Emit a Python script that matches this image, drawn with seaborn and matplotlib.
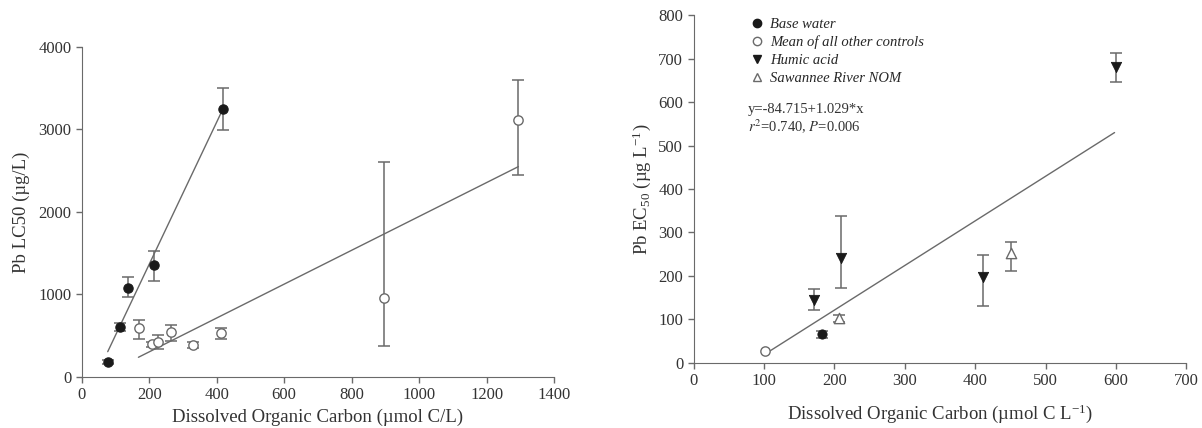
import numpy as np
import pandas as pd
import matplotlib
matplotlib.use('Agg')
import matplotlib.pyplot as plt
import seaborn as sns
from matplotlib.lines import Line2D

# ── data: left panel (Pb LC50 vs DOC) ────────────────────────────────────────
base_doc  = [77, 113, 137, 214, 418]
base_lc50 = [175, 605, 1075, 1355, 3245]
base_lo   = [150, 555, 963, 1165, 2994]
base_hi   = [200, 655, 1206, 1525, 3500]

ctrl_doc  = [169, 208, 225, 264, 331, 413, 896, 1294]
ctrl_lc50 = [595, 393, 425, 546, 385, 534, 960, 3115]
ctrl_lo   = [453, 365, 336, 437, 345, 461, 370, 2451]
ctrl_hi   = [688, 420, 506, 628, 420, 595, 2609, 3600]

base_fit_x = [77, 418]
base_fit_y = [303, 3245]
ctrl_fit_x = [168, 1294]
ctrl_fit_y = [235, 2549]

# ── data: right panel (Pb EC50 vs DOC) ───────────────────────────────────────
bw_doc   = [182]
bw_ec50  = [65]
bw_lo    = [57]
bw_hi    = [72]

mc_doc   = [101]
mc_ec50  = [27]

ha_doc   = [171, 210, 411, 600]
ha_ec50  = [145, 240, 198, 681]
ha_lo    = [120, 171, 131, 646]
ha_hi    = [169, 338, 248, 714]

sr_doc   = [207, 451]
sr_ec50  = [102, 252]
sr_lo    = [93, 212]
sr_hi    = [110, 278]

fit_x = [103, 598]
fit_y = [21, 530]

legend_labels = ['Base water', 'Mean of all other controls',
                 'Humic acid', 'Sawannee River NOM']

# ── style ────────────────────────────────────────────────────────────────────
sns.set_style('ticks')
plt.rcParams['font.family'] = ['Liberation Serif', 'DejaVu Serif']
plt.rcParams['mathtext.fontset'] = 'stix'
plt.rcParams['mathtext.default'] = 'regular'

GREY = '#6a6a6a'
DARK = '#1a1a1a'

fig = plt.figure(figsize=(12.02, 4.28), dpi=100)
ax1 = fig.add_axes([0.068, 0.120, 0.393, 0.770])
ax2 = fig.add_axes([0.577, 0.153, 0.410, 0.811])


def err(ax, x, y, lo, hi):
    y = np.asarray(y)
    yerr = [y - np.asarray(lo), np.asarray(hi) - y]
    ax.errorbar(x, y, yerr=yerr, fmt='none', ecolor=GREY, elinewidth=1.1,
                capsize=4, capthick=1.1, zorder=2)


# left panel
sns.lineplot(x=base_fit_x, y=base_fit_y, ax=ax1, color=GREY, lw=1.0, zorder=1)
sns.lineplot(x=ctrl_fit_x, y=ctrl_fit_y, ax=ax1, color=GREY, lw=1.0, zorder=1)
err(ax1, base_doc, base_lc50, base_lo, base_hi)
err(ax1, ctrl_doc, ctrl_lc50, ctrl_lo, ctrl_hi)
sns.scatterplot(x=base_doc, y=base_lc50, ax=ax1, marker='o', s=45,
                color=DARK, edgecolor=DARK, linewidth=0.8, zorder=3)
sns.scatterplot(x=ctrl_doc, y=ctrl_lc50, ax=ax1, marker='o', s=45,
                facecolor='white', edgecolor=GREY, linewidth=1.0, zorder=3)

ax1.set_xlim(0, 1400)
ax1.set_ylim(0, 4000)
ax1.set_xticks(np.arange(0, 1401, 200))
ax1.set_yticks(np.arange(0, 4001, 1000))
ax1.set_xlabel('Dissolved Organic Carbon (µmol C/L)', fontsize=13.5, color='#333333')
ax1.set_ylabel('Pb LC50 (µg/L)', fontsize=13.5, color='#333333', labelpad=6)

# right panel
sns.lineplot(x=fit_x, y=fit_y, ax=ax2, color=GREY, lw=1.0, zorder=1)
err(ax2, bw_doc, bw_ec50, bw_lo, bw_hi)
err(ax2, ha_doc, ha_ec50, ha_lo, ha_hi)
err(ax2, sr_doc, sr_ec50, sr_lo, sr_hi)
sns.scatterplot(x=bw_doc, y=bw_ec50, ax=ax2, marker='o', s=45,
                color=DARK, edgecolor=DARK, zorder=3)
sns.scatterplot(x=mc_doc, y=mc_ec50, ax=ax2, marker='o', s=45,
                facecolor='white', edgecolor=GREY, linewidth=1.0, zorder=3)
sns.scatterplot(x=ha_doc, y=ha_ec50, ax=ax2, marker='v', s=55,
                color=DARK, edgecolor=DARK, zorder=3)
sns.scatterplot(x=sr_doc, y=sr_ec50, ax=ax2, marker='^', s=55,
                facecolor='white', edgecolor=GREY, linewidth=1.0, zorder=3)

ax2.set_xlim(0, 700)
ax2.set_ylim(0, 800)
ax2.set_xticks(np.arange(0, 701, 100))
ax2.set_yticks(np.arange(0, 801, 100))
ax2.set_xlabel('Dissolved Organic Carbon (µmol C L$^{-1}$)', fontsize=13.5,
               color='#333333', labelpad=10)
ax2.set_ylabel('Pb EC$_{50}$ (µg L$^{-1}$)', fontsize=13.5, color='#333333')

handles = [
    Line2D([], [], ls='none', marker='o', ms=6, mfc=DARK, mec=DARK),
    Line2D([], [], ls='none', marker='o', ms=6, mfc='white', mec=GREY),
    Line2D([], [], ls='none', marker='v', ms=6, mfc=DARK, mec=DARK),
    Line2D([], [], ls='none', marker='^', ms=6, mfc='white', mec=GREY),
]
ax2.legend(handles, legend_labels, loc='upper left', bbox_to_anchor=(0.085, 1.03),
           frameon=False, prop={'style': 'italic', 'size': 10.5},
           handletextpad=0.3, labelspacing=0.3, handlelength=1.2)

ax2.text(0.11, 0.728, 'y=-84.715+1.029*x', transform=ax2.transAxes,
         fontsize=10.5, va='center', color='#333333')
ax2.text(0.11, 0.68, '$\\it{r}^2$=0.740, $\\it{P}$=0.006', transform=ax2.transAxes,
         fontsize=10.5, va='center', color='#333333')

for ax in (ax1, ax2):
    sns.despine(ax=ax)
    ax.spines['left'].set_color(GREY)
    ax.spines['bottom'].set_color(GREY)
    ax.tick_params(colors=GREY, labelcolor='#333333', labelsize=12,
                   length=4, width=1)

fig.savefig('out.png', dpi=100)
